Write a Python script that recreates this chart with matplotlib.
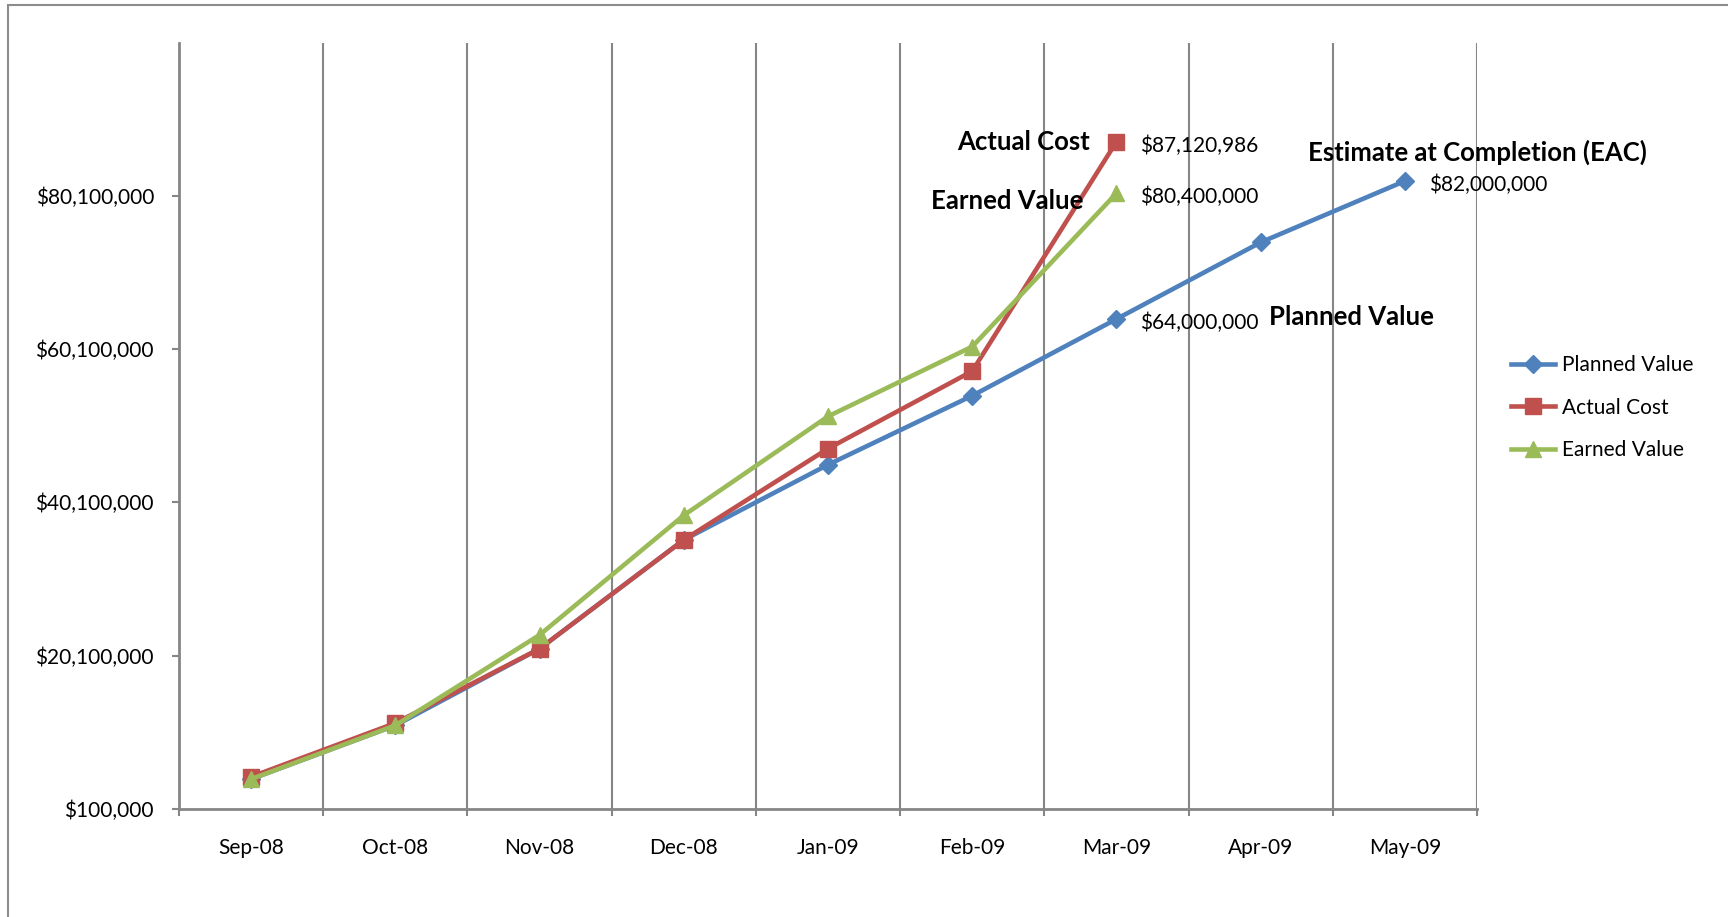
import matplotlib
matplotlib.use("Agg")
import matplotlib.pyplot as plt
from matplotlib.ticker import FixedLocator, FuncFormatter
from matplotlib.patches import Rectangle

plt.rcParams['font.family'] = ['Lato', 'DejaVu Sans']

months = ["Sep-08", "Oct-08", "Nov-08", "Dec-08", "Jan-09",
          "Feb-09", "Mar-09", "Apr-09", "May-09"]
planned_value = [4000000, 11000000, 21000000, 35200000, 45000000,
                 54000000, 64000000, 74000000, 82000000]
actual_cost = [4300000, 11300000, 21000000, 35200000, 47100000,
               57200000, 87120986]
earned_value = [4000000, 11000000, 22800000, 38400000, 51300000,
                60400000, 80400000]
y_ticks = [100000, 20100000, 40100000, 60100000, 80100000]

BLUE = "#4F81BD"
RED = "#C0504D"
GREEN = "#9BBB59"
GRID = "#868686"

W, H = 1728, 917
fig = plt.figure(figsize=(W / 100, H / 100), dpi=100)
ax = fig.add_axes([179 / W, 1 - 809 / H, (1477 - 179) / W, (809 - 43) / H])

x_pv = list(range(len(planned_value)))
x_ac = list(range(len(actual_cost)))
x_ev = list(range(len(earned_value)))

lw = 3.3
ax.plot(x_pv, planned_value, color=BLUE, lw=lw, marker="D", ms=9.5,
        label="Planned Value", zorder=3, solid_joinstyle="round")
ax.plot(x_ac, actual_cost, color=RED, lw=lw, marker="s", ms=11,
        label="Actual Cost", zorder=4, solid_joinstyle="round")
ax.plot(x_ev, earned_value, color=GREEN, lw=lw, marker="^", ms=12,
        label="Earned Value", zorder=5, solid_joinstyle="round")

ax.set_xlim(-0.5, len(months) - 0.5)
ax.set_ylim(100000, 100000000)

# category labels at centres, tick marks and gridlines at boundaries
ax.xaxis.set_major_locator(FixedLocator(x_pv))
ax.set_xticklabels(months)
ax.xaxis.set_minor_locator(FixedLocator([i - 0.5 for i in range(len(months) + 1)]))
ax.tick_params(axis="x", which="major", length=0, pad=21, labelsize=15)
ax.tick_params(axis="x", which="minor", length=5, width=1.5, color=GRID,
               direction="out")
ax.grid(True, axis="x", which="minor", color=GRID, lw=1.5)

ax.yaxis.set_major_locator(FixedLocator(y_ticks))
ax.yaxis.set_major_formatter(FuncFormatter(lambda v, p: "${:,.0f}".format(v)))
ax.tick_params(axis="y", which="major", length=5, width=1.5, color=GRID,
               direction="out", pad=13, labelsize=15)

for s in ["top", "right"]:
    ax.spines[s].set_visible(False)
for s in ["left", "bottom"]:
    ax.spines[s].set_color(GRID)
    ax.spines[s].set_linewidth(2)

def value_label(x, y, txt):
    ax.annotate(txt, (x, y), xytext=(24, -4), textcoords="offset pixels",
                ha="left", va="center", fontsize=15, zorder=6)

def series_label(x, y, txt, dx, dy, ha):
    ax.annotate(txt, (x, y), xytext=(dx, dy), textcoords="offset pixels",
                ha=ha, va="center", fontsize=18.5, fontweight="bold", zorder=6)

value_label(x_ac[-1], actual_cost[-1], "${:,.0f}".format(actual_cost[-1]))
value_label(x_ev[-1], earned_value[-1], "${:,.0f}".format(earned_value[-1]))
value_label(6, planned_value[6], "${:,.0f}".format(planned_value[6]))
value_label(x_pv[-1], planned_value[-1], "${:,.0f}".format(planned_value[-1]))

series_label(x_ac[-1], actual_cost[-1], "Actual Cost", -27, 0, "right")
series_label(x_ev[-1], earned_value[-1], "Earned Value", -33, -8, "right")
series_label(6, planned_value[6], "Planned Value", 153, 2, "left")
series_label(x_pv[-1], planned_value[-1], "Estimate at Completion (EAC)", -97, 29, "left")

leg = fig.legend(loc="upper left", bbox_to_anchor=(1503 / W, 1 - 347 / H),
                 frameon=False, fontsize=15, handlelength=2.1,
                 labelspacing=1.07, handletextpad=0.32, borderaxespad=0)

# chart area border
fig.patches.append(Rectangle((8 / W, -0.01), 1.1, 1 - 5 / H + 0.01,
                             transform=fig.transFigure, fill=False,
                             edgecolor="#8C8C8C", lw=1.5, zorder=0))

fig.savefig("out.png", dpi=100)
